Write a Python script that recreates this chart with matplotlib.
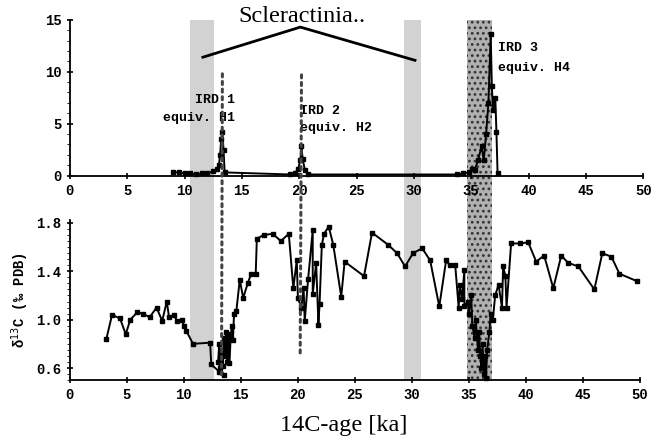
import matplotlib
matplotlib.use('Agg')
import matplotlib.pyplot as plt
from matplotlib.patches import Rectangle, ConnectionPatch
from matplotlib.transforms import blended_transform_factory

# IRD counts (top panel)
ird_age = [9.0, 9.5, 10.0, 10.5, 11.0, 11.5, 12.0, 12.5, 12.8, 13.0, 13.1, 13.2, 13.3, 13.4, 13.5,
           19.2, 19.6, 19.9, 20.1, 20.2, 20.3, 20.5, 20.8,
           33.8, 34.3, 34.8, 35.1, 35.3, 35.6, 35.9, 36.1, 36.3, 36.5, 36.7, 36.8, 36.9, 37.1, 37.2, 37.3]
ird_val = [0.3, 0.3, 0.2, 0.2, 0.1, 0.2, 0.2, 0.4, 0.6, 1.0, 2.0, 3.5, 4.2, 2.5, 0.3,
           0.1, 0.2, 0.6, 1.5, 2.8, 1.6, 0.5, 0.1,
           0.1, 0.2, 0.3, 0.6, 0.5, 1.5, 2.8, 1.5, 4.0, 7.0, 13.6, 8.6, 6.3, 7.5, 4.2, 0.2]

# delta 13C (bottom panel)
d13c_age = [3.2, 3.7, 4.4, 4.9, 5.3, 5.9, 6.4, 7.0, 7.6, 8.1, 8.5, 8.7, 9.1, 9.4, 9.8, 10.0, 10.2,
            10.8, 12.3, 12.4, 13.1, 13.5, 13.0, 13.1, 13.2, 13.3, 13.4, 13.5, 13.6, 13.7, 13.8,
            13.9, 14.0, 14.1, 14.2, 14.3, 14.4, 14.6, 14.9, 15.2, 15.6, 15.9, 16.3, 16.4, 17.0,
            17.8, 18.5, 19.2, 19.6, 19.9, 20.0, 20.3, 20.5, 20.6, 20.9, 21.3, 21.3, 21.6, 21.8,
            21.9, 22.1, 22.3, 22.7, 23.1, 23.8, 24.1, 25.8, 26.5, 27.9, 28.7, 29.4, 30.1, 30.9,
            31.6, 32.4, 33.0, 33.3, 33.8, 34.1, 34.2, 34.4, 34.6, 34.6, 34.9, 35.0, 35.2, 35.3,
            35.5, 35.6, 35.8, 35.9, 36.0, 36.1, 36.2, 36.3, 36.4, 36.5, 36.6, 36.8, 36.9, 37.1,
            37.3, 37.6, 37.9, 38.0, 38.2, 38.3, 38.7, 39.5, 40.2, 40.9, 41.6, 42.4, 43.1, 43.7,
            44.6, 46.0, 46.7, 47.5, 48.2, 49.7]
d13c_val = [0.84, 1.04, 1.01, 0.88, 1.00, 1.06, 1.05, 1.02, 1.10, 0.99, 1.15, 1.02, 1.04, 0.99,
            1.00, 0.95, 0.91, 0.80, 0.81, 0.63, 0.57, 0.54, 0.65, 0.80, 0.60, 0.75, 0.62, 0.85,
            0.70, 0.90, 0.65, 0.88, 0.64, 0.85, 0.95, 0.83, 1.05, 1.07, 1.33, 1.18, 1.30, 1.38,
            1.38, 1.67, 1.70, 1.71, 1.65, 1.71, 1.26, 1.49, 1.18, 1.10, 1.26, 0.99, 1.34, 1.74,
            1.21, 1.47, 0.96, 1.13, 1.62, 1.71, 1.77, 1.62, 1.19, 1.48, 1.36, 1.72, 1.62, 1.55,
            1.44, 1.55, 1.59, 1.49, 1.11, 1.49, 1.45, 1.45, 1.10, 1.29, 1.17, 1.41, 1.11, 1.15,
            1.05, 1.20, 0.95, 0.85, 1.00, 0.75, 0.90, 0.70, 0.60, 0.80, 0.55, 0.70, 0.52, 0.75,
            0.90, 1.05, 1.00, 1.20, 1.29, 1.10, 1.44, 1.36, 1.10, 1.63, 1.63, 1.64, 1.48, 1.53,
            1.26, 1.53, 1.47, 1.44, 1.25, 1.55, 1.52, 1.38, 1.32]

# shaded intervals and marker lines
bands = [(10.5, 12.6), (29.3, 30.8)]
h4_band = (34.8, 37.0)
dotted_lines = [(13.3, 9.8, 0.52), (20.2, 9.7, 0.70)]
chevron_x = [11.6, 20.1, 30.1]
chevron_y = [11.4, 14.3, 11.1]

mono = 'Liberation Mono'
serif = 'Liberation Serif'

fig = plt.figure(figsize=(6.53, 4.41), dpi=100)
ax1 = fig.add_axes([0.107, 0.602, 0.878, 0.353])
ax2 = fig.add_axes([0.107, 0.138, 0.873, 0.362])

for ax in (ax1, ax2):
    ax.set_xlim(0, 50)
    ax.set_xticks(range(0, 51, 5))
    ax.spines['top'].set_visible(False)
    ax.spines['right'].set_visible(False)
    ax.patch.set_alpha(0)
    ax.tick_params(direction='inout', length=5, width=1.2, labelsize=10)
    for lab in ax.get_xticklabels():
        lab.set_family(mono)
        lab.set_weight('bold')
    ax.spines['left'].set_linewidth(1.3)
    ax.spines['bottom'].set_linewidth(1.3)

ax1.set_ylim(0, 15)
ax1.set_yticks([0, 5, 10, 15])
ax1.set_yticklabels(['0', '5', '10', '15'], family=mono, weight='bold')
ax1.set_yticks(range(0, 16), minor=True)
ax1.tick_params(axis='y', which='minor', length=2)

ax2.set_ylim(0.5, 1.82)
ax2.set_yticks([0.6, 1.0, 1.4, 1.8])
ax2.set_yticklabels(['0.6', '1.0', '1.4', '1.8'], family=mono, weight='bold')
ax2.set_yticks([0.5 + 0.05 * i for i in range(27)], minor=True)
ax2.tick_params(axis='y', which='minor', length=2)

# shaded bands spanning both panels, drawn beneath the axes
plt.rcParams['hatch.linewidth'] = 1.2
tr = blended_transform_factory(ax2.transData, fig.transFigure)
for x0, x1 in bands:
    fig.patches.append(Rectangle((x0, 0.138), x1 - x0, 0.817, transform=tr,
                                 facecolor='#d2d2d2', edgecolor='none', zorder=-1))
fig.patches.append(Rectangle((h4_band[0], 0.138), h4_band[1] - h4_band[0], 0.817, transform=tr,
                             facecolor='#b0b0b0', edgecolor='#333333', hatch='...',
                             linewidth=0, zorder=-1))

for x, ytop, ybot in dotted_lines:
    con = ConnectionPatch(xyA=(x, ytop), coordsA=ax1.transData,
                          xyB=(x, ybot), coordsB=ax2.transData,
                          linestyle=(0, (1, 1.5)), linewidth=2.2, color='#444444')
    fig.add_artist(con)

ax1.plot(ird_age, ird_val, color='black', lw=1.4, marker='s', ms=2.5, clip_on=False, zorder=3)
ax2.plot(d13c_age, d13c_val, color='black', lw=1.4, marker='s', ms=2.5, clip_on=False, zorder=3)

ax1.plot(chevron_x, chevron_y, color='black', lw=2, clip_on=False)
fig.text(0.462, 0.962, 'Scleractinia..', family=serif, fontsize=17.5, ha='center', va='center')

lab_kw = dict(family=mono, weight='bold', fontsize=9.5)
ax1.text(14.4, 7.3, 'IRD 1', ha='right', va='center', **lab_kw)
ax1.text(14.4, 5.5, 'equiv. H1', ha='right', va='center', **lab_kw)
ax1.text(20.1, 6.2, 'IRD 2', ha='left', va='center', **lab_kw)
ax1.text(20.1, 4.6, 'equiv. H2', ha='left', va='center', **lab_kw)
ax1.text(37.3, 12.3, 'IRD 3', ha='left', va='center', **lab_kw)
ax1.text(37.3, 10.4, 'equiv. H4', ha='left', va='center', **lab_kw)

ax2.set_ylabel('δ$^{13}$C (‰ PDB)', family=mono, weight='bold', fontsize=10, labelpad=4)
fig.text(0.527, 0.036, '14C-age [ka]', family=serif, fontsize=17.5, ha='center', va='center')

fig.savefig('out.png', dpi=100)
